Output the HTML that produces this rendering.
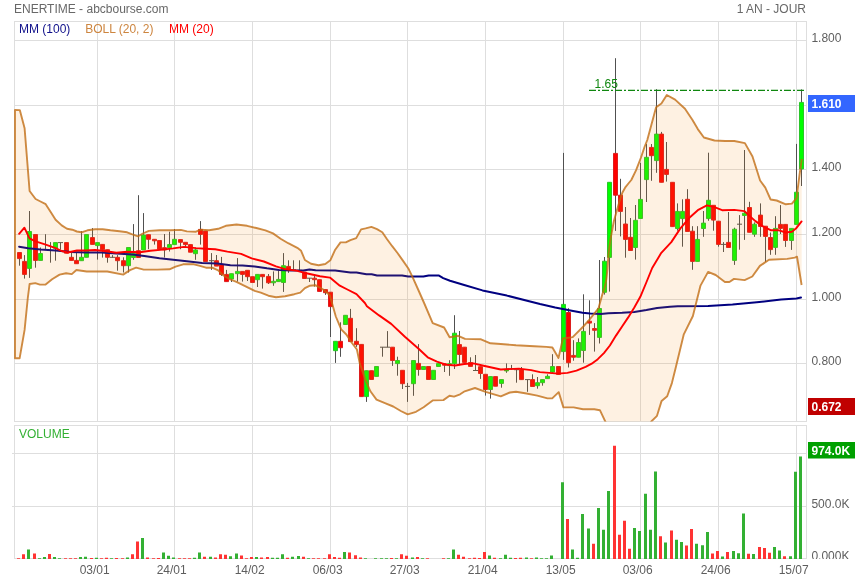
<!DOCTYPE html><html><head><meta charset="utf-8"><title>ENERTIME - abcbourse.com</title>
<style>html,body{margin:0;padding:0;background:#fff}body{width:855px;height:580px;overflow:hidden}svg{display:block}text{font-family:"Liberation Sans",Arial,sans-serif;font-size:12px}</style></head><body>
<svg width="855" height="580" viewBox="0 0 855 580">
<defs><clipPath id="pc"><rect x="14" y="21.5" width="792.5" height="400.0"/></clipPath></defs>
<rect width="855" height="580" fill="#fff"/>
<path d="M97.5 21.5V421.5M97.5 425.5V558.5M174.5 21.5V421.5M174.5 425.5V558.5M252.5 21.5V421.5M252.5 425.5V558.5M330.5 21.5V421.5M330.5 425.5V558.5M407.5 21.5V421.5M407.5 425.5V558.5M485.5 21.5V421.5M485.5 425.5V558.5M563.5 21.5V421.5M563.5 425.5V558.5M640.5 21.5V421.5M640.5 425.5V558.5M718.5 21.5V421.5M718.5 425.5V558.5M796.5 21.5V421.5M796.5 425.5V558.5M14.5 40.5H806.5M14.5 105.5H806.5M14.5 169.5H806.5M14.5 234.5H806.5M14.5 299.5H806.5M14.5 363.5H806.5M12 453.5H806.5M12 506.5H806.5" stroke="#dedede" stroke-width="1" fill="none" shape-rendering="crispEdges"/>
<rect x="14.5" y="21.5" width="792.0" height="400.0" fill="none" stroke="#dedede" shape-rendering="crispEdges"/>
<rect x="14.5" y="425.5" width="792.0" height="133.0" fill="none" stroke="#dedede" shape-rendering="crispEdges"/>
<path d="M19.5 252.5V265.7M24.5 255.1V278.6M29.5 211.0V277.9M35.5 234.5V267.7M40.5 247.5V260.4M45.5 234.2V249.7M50.5 242.1V262.7M55.5 242.6V260.7M60.5 242.6V249.7M66.5 242.6V253.2M71.5 251.3V260.4M76.5 252.8V263.7M81.5 231.2V260.7M86.5 234.5V257.3M92.5 228.1V244.4M97.5 242.6V259.6M102.5 244.4V257.6M107.5 249.7V262.7M112.5 255.1V257.6M117.5 255.1V270.7M123.5 257.3V272.5M128.5 247.5V272.5M133.5 224.1V259.8M138.5 195.2V257.5M143.5 213.1V249.9M148.5 234.7V249.2M154.5 239.3V244.6M159.5 240.5V249.2M164.5 234.0V257.5M169.5 231.7V251.5M174.5 229.0V244.6M180.5 239.6V249.2M185.5 242.3V246.9M190.5 244.6V252.2M195.5 247.7V259.8M200.5 221.1V244.6M205.5 231.1V261.5M211.5 253.1V269.9M216.5 255.0V266.1M221.5 256.9V275.9M226.5 269.9V281.6M231.5 273.7V282.0M237.5 258.1V281.6M242.5 271.4V281.6M247.5 270.3V281.0M252.5 276.7V282.5M257.5 274.4V287.0M262.5 274.4V288.6M268.5 274.0V284.0M273.5 271.4V285.8M278.5 270.6V281.6M283.5 253.1V291.9M288.5 260.3V272.9M293.5 260.3V270.3M299.5 260.3V270.6M304.5 272.1V278.5M309.5 278.2V282.0M314.5 274.4V286.6M319.5 279.7V291.4M325.5 289.6V294.9M330.5 292.2V337.0M335.5 341.3V362.9M340.5 322.3V356.8M345.5 315.3V324.5M350.5 308.9V341.6M356.5 328.2V346.9M361.5 344.4V396.6M366.5 370.7V401.9M371.5 370.7V379.5M376.5 366.5V376.4M382.5 347.2V356.7M387.5 331.1V347.2M392.5 347.2V365.9M397.5 356.7V375.7M402.5 370.3V389.0M407.5 382.9V401.9M413.5 360.5V395.8M418.5 344.1V375.7M423.5 366.5V369.5M428.5 366.5V379.5M433.5 370.3V379.5M438.5 363.6V366.5M444.5 363.7V372.0M449.5 360.2V375.8M454.5 315.2V369.0M459.5 331.0V365.2M464.5 347.2V362.4M470.5 357.3V366.4M475.5 355.0V370.5M480.5 366.7V378.9M485.5 374.3V395.6M490.5 376.6V398.6M495.5 376.6V386.2M501.5 379.6V387.7M506.5 363.4V372.8M511.5 364.9V369.7M516.5 369.7V382.7M521.5 367.0V379.6M527.5 379.6V391.8M532.5 374.3V386.5M537.5 377.0V388.7M542.5 379.6V385.7M547.5 374.3V378.6M552.5 354.2V373.6M558.5 366.5V374.4M563.5 152.9V359.9M568.5 308.2V367.5M573.5 340.2V360.7M578.5 338.4V357.2M583.5 294.3V362.7M589.5 300.3V334.9M594.5 323.1V351.6M599.5 260.0V343.5M604.5 257.0V294.6M609.5 182.3V291.6M615.5 58.2V230.9M620.5 178.8V236.4M625.5 207.0V257.7M630.5 218.0V250.5M635.5 205.0V259.6M640.5 162.8V218.5M646.5 144.0V202.0M651.5 144.0V180.8M656.5 89.2V172.8M661.5 131.9V182.3M666.5 142.0V181.6M672.5 182.3V226.6M677.5 203.4V230.7M682.5 199.3V246.7M687.5 189.2V231.5M692.5 226.2V269.8M697.5 226.2V261.4M703.5 211.0V236.8M708.5 152.7V220.8M713.5 205.3V230.7M718.5 221.2V246.7M723.5 242.1V252.0M728.5 212.0V247.5M734.5 227.7V264.9M739.5 215.1V249.7M744.5 150.0V239.9M749.5 201.8V232.3M754.5 222.4V236.8M760.5 203.4V236.8M765.5 226.2V261.9M770.5 232.5V254.8M775.5 216.2V254.8M780.5 205.1V234.0M785.5 224.4V246.9M791.5 228.4V249.9M796.5 143.9V224.4M801.5 89.4V186.0" stroke="#505050" stroke-width="1" fill="none"/>
<path d="M58.0 242.6H63.0M110.0 257.3H115.0M209.0 260.7H214.0M291.0 269.9H296.0M297.0 270.3H302.0M307.0 278.2H312.0M380.0 347.2H385.0M385.0 347.2H390.0M405.0 386.4H410.0M473.0 370.5H478.0M509.0 369.0H514.0M514.0 369.7H519.0M525.0 379.6H530.0M721.0 244.4H726.0M737.0 224.2H742.0" stroke="#505050" stroke-width="1" fill="none"/>
<path d="M27.5 231.5h4V268.4h-4zM38.5 253.5h4V260.4h-4zM53.5 242.6h4V248.2h-4zM79.5 257.3h4V260.7h-4zM84.5 234.5h4V257.3h-4zM95.5 242.6h4V245.6h-4zM126.5 247.5h4V265.7h-4zM131.5 253.4h4V257.5h-4zM141.5 235.0h4V249.9h-4zM167.5 244.6h4V247.7h-4zM172.5 239.3h4V244.6h-4zM193.5 249.9h4V253.7h-4zM229.5 273.7h4V279.0h-4zM235.5 271.4h4V273.7h-4zM255.5 274.4h4V279.7h-4zM271.5 281.3h4V282.8h-4zM276.5 279.4h4V281.6h-4zM281.5 265.7h4V282.5h-4zM333.5 341.3h4V350.7h-4zM343.5 315.3h4V324.5h-4zM364.5 370.7h4V396.6h-4zM374.5 366.5h4V376.4h-4zM395.5 360.5h4V363.6h-4zM411.5 360.5h4V383.7h-4zM421.5 366.5h4V369.5h-4zM431.5 370.3h4V379.5h-4zM436.5 363.6h4V366.5h-4zM447.5 363.7h4V365.6h-4zM452.5 333.2h4V363.7h-4zM488.5 376.6h4V389.5h-4zM499.5 379.6h4V383.4h-4zM504.5 369.4h4V370.9h-4zM535.5 382.7h4V385.7h-4zM540.5 379.6h4V382.7h-4zM545.5 376.3h4V378.6h-4zM550.5 366.5h4V372.1h-4zM561.5 304.4h4V351.6h-4zM576.5 342.5h4V357.2h-4zM581.5 331.4h4V350.5h-4zM597.5 308.5h4V337.4h-4zM602.5 261.2h4V292.3h-4zM607.5 182.3h4V257.4h-4zM633.5 220.3h4V247.5h-4zM638.5 199.4h4V218.5h-4zM644.5 157.3h4V179.6h-4zM654.5 134.1h4V160.6h-4zM675.5 211.4h4V228.5h-4zM680.5 211.4h4V218.6h-4zM695.5 239.4h4V261.4h-4zM701.5 223.1h4V228.5h-4zM706.5 200.3h4V218.6h-4zM732.5 229.2h4V260.4h-4zM742.5 213.2h4V215.5h-4zM752.5 224.2h4V234.2h-4zM773.5 228.4h4V247.4h-4zM789.5 228.4h4V240.5h-4zM794.5 192.2h4V224.4h-4zM799.5 102.4h4V169.0h-4z" fill="#00ff00" stroke="#2bc52b" stroke-width="1"/>
<path d="M17.5 252.5h4V258.6h-4zM22.5 261.4h4V274.4h-4zM33.5 234.5h4V260.4h-4zM64.5 242.6h4V253.2h-4zM69.5 257.3h4V260.4h-4zM74.5 260.4h4V263.7h-4zM90.5 237.6h4V244.4h-4zM100.5 244.4h4V249.7h-4zM105.5 249.7h4V257.3h-4zM115.5 257.3h4V260.7h-4zM121.5 260.7h4V265.7h-4zM136.5 250.7h4V257.5h-4zM146.5 234.7h4V239.3h-4zM152.5 239.3h4V240.8h-4zM157.5 240.5h4V249.2h-4zM162.5 247.7h4V249.9h-4zM178.5 239.6h4V242.3h-4zM183.5 242.3h4V244.6h-4zM188.5 244.6h4V252.2h-4zM198.5 229.4h4V234.4h-4zM203.5 231.1h4V261.5h-4zM214.5 260.7h4V266.1h-4zM219.5 264.5h4V274.4h-4zM224.5 274.4h4V281.6h-4zM240.5 271.4h4V274.4h-4zM245.5 270.3h4V276.7h-4zM250.5 276.7h4V282.5h-4zM260.5 274.4h4V276.7h-4zM266.5 276.4h4V282.8h-4zM286.5 266.4h4V270.3h-4zM302.5 272.1h4V278.5h-4zM312.5 278.2h4V279.7h-4zM317.5 279.7h4V291.4h-4zM323.5 289.6h4V292.7h-4zM328.5 292.2h4V306.6h-4zM338.5 341.3h4V347.7h-4zM348.5 318.3h4V341.6h-4zM354.5 341.3h4V344.6h-4zM359.5 344.4h4V396.6h-4zM369.5 370.7h4V379.5h-4zM390.5 347.2h4V360.5h-4zM400.5 370.3h4V383.7h-4zM416.5 363.4h4V369.5h-4zM426.5 366.5h4V379.5h-4zM442.5 363.7h4V365.2h-4zM457.5 344.6h4V354.5h-4zM462.5 347.2h4V362.4h-4zM468.5 362.6h4V366.4h-4zM478.5 366.7h4V373.5h-4zM483.5 374.3h4V389.5h-4zM493.5 376.6h4V386.2h-4zM519.5 369.7h4V379.6h-4zM530.5 379.6h4V386.5h-4zM556.5 366.5h4V374.4h-4zM566.5 312.5h4V362.7h-4zM571.5 355.4h4V357.2h-4zM587.5 321.2h4V323.1h-4zM592.5 328.5h4V330.3h-4zM613.5 153.4h4V195.2h-4zM618.5 195.2h4V211.4h-4zM623.5 224.0h4V239.4h-4zM628.5 237.3h4V250.5h-4zM649.5 147.4h4V155.7h-4zM659.5 134.1h4V182.3h-4zM664.5 169.4h4V174.4h-4zM670.5 182.3h4V226.6h-4zM685.5 199.3h4V231.5h-4zM690.5 231.2h4V261.4h-4zM711.5 205.3h4V220.1h-4zM716.5 221.2h4V244.4h-4zM726.5 242.4h4V247.5h-4zM747.5 207.5h4V232.3h-4zM758.5 215.1h4V226.5h-4zM763.5 226.2h4V236.4h-4zM768.5 237.5h4V249.6h-4zM778.5 224.4h4V228.4h-4zM783.5 224.4h4V240.5h-4z" fill="#ff0000" stroke="#dc1e1e" stroke-width="1"/>
<polyline points="19.1,246.7 28.2,248.2 40.4,249.4 55.6,250.5 70.8,252.0 86.0,252.5 101.2,252.5 116.4,253.5 132.2,254.5 144.3,256.0 159.5,258.3 173.2,259.8 186.9,261.3 202.1,262.9 217.3,263.6 230.4,265.2 242.6,265.4 254.7,266.4 266.9,268.3 279.1,269.9 291.2,270.6 303.4,270.6 309.5,269.4 315.6,270.3 335.2,270.5 350.4,272.5 356.5,272.5 366.4,274.3 371.7,274.3 377.0,275.5 402.1,275.5 408.2,276.6 423.4,276.6 428.7,275.4 438.6,275.4 443.2,278.1 450.0,280.7 464.2,285.0 482.5,290.4 506.8,295.6 531.1,301.7 540.0,304.0 555.2,307.5 570.4,310.5 582.6,312.8 590.2,313.6 600.8,313.9 608.4,313.3 622.1,312.8 634.3,312.0 646.4,310.1 657.1,307.9 670.0,306.7 677.7,306.3 708.1,306.0 732.5,304.5 756.8,302.3 781.1,299.6 796.4,298.4 801.0,297.6" fill="none" stroke="#000080" stroke-width="2" stroke-linejoin="round" stroke-linecap="round"/>
<g clip-path="url(#pc)">
<polygon points="15.0,110.0 19.8,110.1 24.6,128.3 29.6,191.0 35.6,199.0 40.5,201.5 45.7,204.2 51.0,212.5 55.6,219.8 61.7,225.4 67.0,228.8 72.3,229.7 76.9,231.5 81.5,232.3 87.5,230.3 95.1,229.2 102.7,229.2 110.4,230.3 119.5,231.2 127.1,232.3 131.6,234.2 138.2,236.3 142.8,233.5 148.9,230.9 159.5,230.2 170.2,230.2 180.8,229.9 186.9,231.4 196.0,231.7 200.6,229.6 209.1,230.3 218.2,228.8 225.8,225.8 236.5,224.5 247.1,225.8 256.3,228.0 265.4,230.3 273.0,233.4 280.6,238.7 288.2,243.2 297.3,247.8 301.1,250.8 304.9,260.0 311.0,263.8 318.6,265.3 325.3,264.0 330.3,260.3 335.2,249.7 340.5,242.4 345.8,242.4 350.4,240.1 356.2,238.1 361.1,229.4 365.6,228.4 371.4,226.9 377.0,229.1 382.3,232.2 386.9,239.0 392.2,246.2 397.5,253.0 402.9,260.6 408.2,268.2 412.7,277.3 418.8,291.0 424.1,303.0 432.7,323.2 444.1,327.5 449.6,337.3 458.2,335.8 465.1,338.9 481.0,339.3 490.4,343.3 500.8,344.0 516.0,345.3 534.3,346.2 546.4,346.9 552.4,347.5 558.5,357.9 562.9,338.5 572.7,337.1 583.3,326.5 589.4,319.6 598.5,308.3 602.3,294.6 604.5,288.0 606.4,279.0 607.5,269.0 608.4,255.0 610.3,240.0 612.0,231.0 613.9,221.0 616.7,211.0 619.5,201.3 622.3,192.8 625.1,187.7 628.4,183.5 631.3,180.0 636.1,170.2 641.0,157.5 644.5,147.0 647.3,140.0 656.1,107.2 661.4,103.4 666.8,95.0 675.1,99.6 685.0,108.7 692.5,120.0 697.8,129.1 703.9,137.5 714.5,140.5 725.1,141.0 734.3,141.0 744.9,143.1 752.5,156.5 760.1,180.5 765.3,187.6 770.6,199.5 776.7,200.5 785.8,204.3 791.9,203.6 796.5,198.2 799.5,175.0 801.8,159.0 801.6,285.0 797.0,256.7 794.8,257.6 787.2,258.9 769.0,259.8 759.9,265.9 752.3,276.5 744.6,280.1 734.0,278.9 729.4,282.0 724.9,282.0 715.7,275.0 708.1,271.9 700.5,285.6 692.9,316.0 683.8,334.3 675.7,367.7 671.9,383.1 667.2,396.2 661.6,400.9 657.0,415.8 651.3,421.5 645.0,436.0 630.0,445.0 612.0,436.0 606.0,423.0 599.9,410.2 594.3,409.3 583.0,409.3 573.7,407.4 563.4,407.4 558.7,392.1 552.2,398.4 547.5,398.4 537.3,395.6 525.1,393.3 516.0,391.8 509.9,392.5 500.8,396.3 485.6,391.8 475.0,388.0 464.7,391.3 460.1,394.3 454.0,396.6 449.5,395.8 443.4,400.1 432.7,400.4 423.6,407.2 416.0,411.8 407.7,414.4 400.8,411.0 393.2,406.5 385.6,403.4 376.5,399.6 370.4,391.3 365.1,379.1 359.7,363.0 356.9,349.5 351.2,342.0 346.3,334.5 341.2,329.4 335.8,316.5 329.8,295.2 323.7,289.9 315.3,285.2 309.5,285.8 304.9,288.1 300.3,292.7 294.3,294.2 285.1,296.2 276.0,297.2 268.4,295.7 260.8,292.7 254.7,290.9 245.6,286.4 236.4,281.8 228.8,278.8 222.7,275.0 218.2,270.4 212.1,267.7 206.0,267.7 199.9,265.8 193.9,264.3 183.2,264.3 175.6,266.6 169.5,269.3 157.4,269.6 143.7,269.6 136.1,267.7 130.0,270.1 123.2,274.6 107.3,271.5 86.7,271.5 76.4,270.0 71.8,274.1 66.1,273.3 59.6,274.6 52.1,279.3 45.6,284.6 39.9,284.6 35.3,283.1 29.6,284.0 27.8,298.0 24.6,329.9 19.6,358.3 15.0,358.3" fill="#fa8c14" fill-opacity="0.125"/>
<polyline points="801.6,285.0 797.0,256.7 794.8,257.6 787.2,258.9 769.0,259.8 759.9,265.9 752.3,276.5 744.6,280.1 734.0,278.9 729.4,282.0 724.9,282.0 715.7,275.0 708.1,271.9 700.5,285.6 692.9,316.0 683.8,334.3 675.7,367.7 671.9,383.1 667.2,396.2 661.6,400.9 657.0,415.8 651.3,421.5 645.0,436.0 630.0,445.0 612.0,436.0 606.0,423.0 599.9,410.2 594.3,409.3 583.0,409.3 573.7,407.4 563.4,407.4 558.7,392.1 552.2,398.4 547.5,398.4 537.3,395.6 525.1,393.3 516.0,391.8 509.9,392.5 500.8,396.3 485.6,391.8 475.0,388.0 464.7,391.3 460.1,394.3 454.0,396.6 449.5,395.8 443.4,400.1 432.7,400.4 423.6,407.2 416.0,411.8 407.7,414.4 400.8,411.0 393.2,406.5 385.6,403.4 376.5,399.6 370.4,391.3 365.1,379.1 359.7,363.0 356.9,349.5 351.2,342.0 346.3,334.5 341.2,329.4 335.8,316.5 329.8,295.2 323.7,289.9 315.3,285.2 309.5,285.8 304.9,288.1 300.3,292.7 294.3,294.2 285.1,296.2 276.0,297.2 268.4,295.7 260.8,292.7 254.7,290.9 245.6,286.4 236.4,281.8 228.8,278.8 222.7,275.0 218.2,270.4 212.1,267.7 206.0,267.7 199.9,265.8 193.9,264.3 183.2,264.3 175.6,266.6 169.5,269.3 157.4,269.6 143.7,269.6 136.1,267.7 130.0,270.1 123.2,274.6 107.3,271.5 86.7,271.5 76.4,270.0 71.8,274.1 66.1,273.3 59.6,274.6 52.1,279.3 45.6,284.6 39.9,284.6 35.3,283.1 29.6,284.0 27.8,298.0 24.6,329.9 19.6,358.3 15.0,358.3 15.0,110.0 19.8,110.1 24.6,128.3 29.6,191.0 35.6,199.0 40.5,201.5 45.7,204.2 51.0,212.5 55.6,219.8 61.7,225.4 67.0,228.8 72.3,229.7 76.9,231.5 81.5,232.3 87.5,230.3 95.1,229.2 102.7,229.2 110.4,230.3 119.5,231.2 127.1,232.3 131.6,234.2 138.2,236.3 142.8,233.5 148.9,230.9 159.5,230.2 170.2,230.2 180.8,229.9 186.9,231.4 196.0,231.7 200.6,229.6 209.1,230.3 218.2,228.8 225.8,225.8 236.5,224.5 247.1,225.8 256.3,228.0 265.4,230.3 273.0,233.4 280.6,238.7 288.2,243.2 297.3,247.8 301.1,250.8 304.9,260.0 311.0,263.8 318.6,265.3 325.3,264.0 330.3,260.3 335.2,249.7 340.5,242.4 345.8,242.4 350.4,240.1 356.2,238.1 361.1,229.4 365.6,228.4 371.4,226.9 377.0,229.1 382.3,232.2 386.9,239.0 392.2,246.2 397.5,253.0 402.9,260.6 408.2,268.2 412.7,277.3 418.8,291.0 424.1,303.0 432.7,323.2 444.1,327.5 449.6,337.3 458.2,335.8 465.1,338.9 481.0,339.3 490.4,343.3 500.8,344.0 516.0,345.3 534.3,346.2 546.4,346.9 552.4,347.5 558.5,357.9 562.9,338.5 572.7,337.1 583.3,326.5 589.4,319.6 598.5,308.3 602.3,294.6 604.5,288.0 606.4,279.0 607.5,269.0 608.4,255.0 610.3,240.0 612.0,231.0 613.9,221.0 616.7,211.0 619.5,201.3 622.3,192.8 625.1,187.7 628.4,183.5 631.3,180.0 636.1,170.2 641.0,157.5 644.5,147.0 647.3,140.0 656.1,107.2 661.4,103.4 666.8,95.0 675.1,99.6 685.0,108.7 692.5,120.0 697.8,129.1 703.9,137.5 714.5,140.5 725.1,141.0 734.3,141.0 744.9,143.1 752.5,156.5 760.1,180.5 765.3,187.6 770.6,199.5 776.7,200.5 785.8,204.3 791.9,203.6 796.5,198.2 799.5,175.0 801.8,159.0" fill="none" stroke="#c06a10" stroke-opacity="0.78" stroke-width="1.9" stroke-linejoin="round"/>
</g>
<polyline points="19.1,233.8 24.4,227.7 29.5,238.3 35.5,241.4 45.0,244.4 55.6,248.2 61.7,251.0 67.8,252.5 76.9,250.5 86.0,250.5 95.1,250.0 104.3,251.0 116.4,252.8 127.1,251.8 139.8,252.2 150.4,250.7 162.6,249.6 173.2,248.4 183.9,246.9 196.0,248.1 205.1,248.7 215.2,249.2 227.4,251.6 241.1,253.9 251.7,258.4 263.9,261.5 276.0,266.4 285.1,269.1 297.3,270.8 306.4,273.3 320.0,276.3 329.9,277.6 339.8,285.7 347.4,289.5 356.5,294.1 364.9,303.0 366.9,306.2 379.1,315.4 391.2,323.9 404.9,336.7 418.6,348.8 427.7,357.3 436.9,361.6 446.0,364.6 455.1,365.5 464.2,364.0 473.4,363.4 482.5,365.5 500.7,369.5 519.0,368.6 531.1,370.1 540.0,372.1 549.1,372.9 558.2,373.6 567.4,372.9 576.5,370.6 585.6,366.8 591.7,363.7 597.8,359.2 603.9,353.1 609.9,345.5 616.0,335.6 622.1,326.5 628.2,317.4 634.3,307.5 640.3,296.8 646.1,283.0 652.2,268.0 661.3,252.8 671.3,242.1 680.4,228.4 689.4,217.8 697.8,210.2 706.9,205.3 714.5,207.2 722.1,210.2 734.3,209.9 744.5,211.1 749.3,215.7 755.4,221.1 763.0,226.4 770.6,230.2 778.2,230.2 785.8,232.5 791.9,231.7 796.5,227.9 801.6,221.4" fill="none" stroke="#ff0000" stroke-width="1.9" stroke-linejoin="round" stroke-linecap="round"/>
<path d="M589 90.25H804" stroke="#0f870f" stroke-width="1.25" stroke-dasharray="7 2 2 2" fill="none"/>
<text x="594.5" y="88" fill="#0f870f">1.65</text>
<path d="M27.0 549.6h3V559.0h-3zM38.0 558.2h3V559.0h-3zM43.0 557.1h3V559.0h-3zM53.0 557.1h3V559.0h-3zM58.0 558.2h3V559.0h-3zM79.0 556.9h3V559.0h-3zM84.0 556.7h3V559.0h-3zM95.0 557.8h3V559.0h-3zM110.0 558.2h3V559.0h-3zM126.0 557.6h3V559.0h-3zM141.0 538.0h3V559.0h-3zM162.0 552.5h3V559.0h-3zM167.0 555.7h3V559.0h-3zM172.0 557.4h3V559.0h-3zM193.0 557.8h3V559.0h-3zM198.0 552.5h3V559.0h-3zM209.0 556.7h3V559.0h-3zM229.0 556.2h3V559.0h-3zM235.0 553.4h3V559.0h-3zM255.0 557.1h3V559.0h-3zM271.0 557.8h3V559.0h-3zM276.0 557.8h3V559.0h-3zM281.0 554.3h3V559.0h-3zM291.0 556.7h3V559.0h-3zM297.0 556.0h3V559.0h-3zM307.0 558.2h3V559.0h-3zM343.0 552.0h3V559.0h-3zM364.0 558.2h3V559.0h-3zM374.0 558.2h3V559.0h-3zM380.0 558.2h3V559.0h-3zM385.0 558.2h3V559.0h-3zM395.0 558.2h3V559.0h-3zM411.0 557.6h3V559.0h-3zM421.0 558.2h3V559.0h-3zM447.0 558.2h3V559.0h-3zM452.0 549.6h3V559.0h-3zM488.0 555.5h3V559.0h-3zM499.0 558.2h3V559.0h-3zM504.0 554.8h3V559.0h-3zM509.0 557.8h3V559.0h-3zM525.0 557.4h3V559.0h-3zM535.0 557.6h3V559.0h-3zM540.0 558.2h3V559.0h-3zM545.0 558.2h3V559.0h-3zM550.0 555.5h3V559.0h-3zM561.0 482.3h3V559.0h-3zM571.0 549.6h3V559.0h-3zM576.0 557.8h3V559.0h-3zM581.0 514.0h3V559.0h-3zM587.0 528.5h3V559.0h-3zM597.0 507.9h3V559.0h-3zM602.0 529.7h3V559.0h-3zM607.0 491.0h3V559.0h-3zM633.0 528.0h3V559.0h-3zM638.0 530.9h3V559.0h-3zM644.0 493.8h3V559.0h-3zM649.0 529.7h3V559.0h-3zM654.0 471.5h3V559.0h-3zM664.0 542.6h3V559.0h-3zM675.0 539.8h3V559.0h-3zM680.0 541.9h3V559.0h-3zM695.0 543.8h3V559.0h-3zM701.0 545.2h3V559.0h-3zM706.0 532.0h3V559.0h-3zM721.0 556.5h3V559.0h-3zM732.0 551.0h3V559.0h-3zM737.0 553.3h3V559.0h-3zM742.0 513.5h3V559.0h-3zM752.0 554.0h3V559.0h-3zM773.0 547.0h3V559.0h-3zM778.0 550.4h3V559.0h-3zM789.0 556.2h3V559.0h-3zM794.0 471.8h3V559.0h-3zM799.0 456.6h3V559.0h-3z" fill="#33b033"/>
<path d="M17.0 558.2h3V559.0h-3zM22.0 554.3h3V559.0h-3zM33.0 553.4h3V559.0h-3zM48.0 554.1h3V559.0h-3zM64.0 558.2h3V559.0h-3zM69.0 558.2h3V559.0h-3zM74.0 558.2h3V559.0h-3zM90.0 558.0h3V559.0h-3zM100.0 558.2h3V559.0h-3zM105.0 557.8h3V559.0h-3zM115.0 558.0h3V559.0h-3zM121.0 558.2h3V559.0h-3zM131.0 554.3h3V559.0h-3zM136.0 541.5h3V559.0h-3zM146.0 557.6h3V559.0h-3zM152.0 558.2h3V559.0h-3zM157.0 558.0h3V559.0h-3zM178.0 558.2h3V559.0h-3zM183.0 558.2h3V559.0h-3zM188.0 558.2h3V559.0h-3zM203.0 556.7h3V559.0h-3zM214.0 557.6h3V559.0h-3zM219.0 554.3h3V559.0h-3zM224.0 554.8h3V559.0h-3zM240.0 555.5h3V559.0h-3zM245.0 558.2h3V559.0h-3zM250.0 557.1h3V559.0h-3zM260.0 557.6h3V559.0h-3zM266.0 557.1h3V559.0h-3zM286.0 557.8h3V559.0h-3zM302.0 556.7h3V559.0h-3zM312.0 558.2h3V559.0h-3zM317.0 558.2h3V559.0h-3zM323.0 558.2h3V559.0h-3zM328.0 554.3h3V559.0h-3zM333.0 557.1h3V559.0h-3zM338.0 557.8h3V559.0h-3zM348.0 552.5h3V559.0h-3zM354.0 555.3h3V559.0h-3zM359.0 557.4h3V559.0h-3zM390.0 558.1h3V559.0h-3zM400.0 554.3h3V559.0h-3zM405.0 555.7h3V559.0h-3zM416.0 557.1h3V559.0h-3zM426.0 558.2h3V559.0h-3zM442.0 558.2h3V559.0h-3zM457.0 554.8h3V559.0h-3zM462.0 556.7h3V559.0h-3zM468.0 558.2h3V559.0h-3zM473.0 557.8h3V559.0h-3zM478.0 558.1h3V559.0h-3zM483.0 552.0h3V559.0h-3zM493.0 557.8h3V559.0h-3zM514.0 558.1h3V559.0h-3zM519.0 557.8h3V559.0h-3zM530.0 558.2h3V559.0h-3zM566.0 519.1h3V559.0h-3zM592.0 543.8h3V559.0h-3zM613.0 445.8h3V559.0h-3zM618.0 534.8h3V559.0h-3zM623.0 520.8h3V559.0h-3zM628.0 548.7h3V559.0h-3zM659.0 536.3h3V559.0h-3zM670.0 530.4h3V559.0h-3zM685.0 545.6h3V559.0h-3zM690.0 529.0h3V559.0h-3zM711.0 553.6h3V559.0h-3zM716.0 551.0h3V559.0h-3zM726.0 552.0h3V559.0h-3zM747.0 553.8h3V559.0h-3zM758.0 547.0h3V559.0h-3zM763.0 548.0h3V559.0h-3zM768.0 552.8h3V559.0h-3zM783.0 556.2h3V559.0h-3z" fill="#ff3333"/>
<text x="14" y="13" fill="#686868">ENERTIME - abcbourse.com</text>
<text x="806" y="13" fill="#686868" text-anchor="end">1 AN - JOUR</text>
<text x="19" y="32.8" fill="#10108a">MM (100)</text>
<text x="85.2" y="32.8" fill="#cd853f">BOLL (20, 2)</text>
<text x="169" y="32.8" fill="#ff0000">MM (20)</text>
<text x="19" y="437.5" fill="#33b033">VOLUME</text>
<text x="811.4" y="42.0" fill="#5e5e5e">1.800</text>
<text x="811.4" y="171.0" fill="#5e5e5e">1.400</text>
<text x="811.4" y="236.0" fill="#5e5e5e">1.200</text>
<text x="811.4" y="301.0" fill="#5e5e5e">1.000</text>
<text x="811.4" y="365.0" fill="#5e5e5e">0.800</text>
<text x="811.4" y="508" fill="#5e5e5e">500.0K</text>
<clipPath id="zc"><rect x="807" y="540" width="48" height="19"/></clipPath>
<text x="811.4" y="560" fill="#5e5e5e" clip-path="url(#zc)">0.000K</text>
<text x="94.7" y="574" fill="#5e5e5e" text-anchor="middle">03/01</text>
<text x="171.7" y="574" fill="#5e5e5e" text-anchor="middle">24/01</text>
<text x="249.7" y="574" fill="#5e5e5e" text-anchor="middle">14/02</text>
<text x="327.7" y="574" fill="#5e5e5e" text-anchor="middle">06/03</text>
<text x="404.7" y="574" fill="#5e5e5e" text-anchor="middle">27/03</text>
<text x="482.7" y="574" fill="#5e5e5e" text-anchor="middle">21/04</text>
<text x="560.7" y="574" fill="#5e5e5e" text-anchor="middle">13/05</text>
<text x="637.7" y="574" fill="#5e5e5e" text-anchor="middle">03/06</text>
<text x="715.7" y="574" fill="#5e5e5e" text-anchor="middle">24/06</text>
<text x="793.7" y="574" fill="#5e5e5e" text-anchor="middle">15/07</text>
<rect x="808" y="95" width="47" height="17" fill="#3366ff"/><text x="811.5" y="108" fill="#fff" font-weight="bold">1.610</text>
<rect x="808" y="398" width="47" height="17" fill="#c00000"/><text x="811.5" y="411" fill="#fff" font-weight="bold">0.672</text>
<rect x="808" y="442" width="47" height="16.5" fill="#00a000"/><text x="811.5" y="455" fill="#fff" font-weight="bold">974.0K</text>
</svg></body></html>
